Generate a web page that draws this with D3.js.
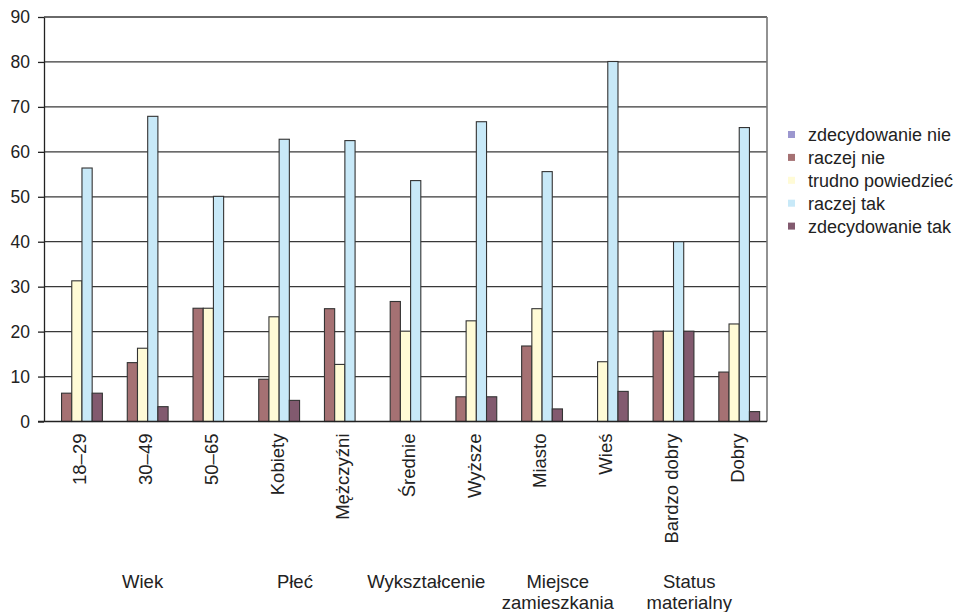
<!DOCTYPE html>
<html>
<head>
<meta charset="utf-8">
<script src="https://cdn.jsdelivr.net/npm/d3@7"></script>
<style>
  html, body { margin: 0; padding: 0; background: #fff; }
  svg { display: block; font-family: "Liberation Sans", Arial, Helvetica, sans-serif; }
</style>
</head>
<body>
<svg id="chart" width="960" height="612"></svg>
<script>
// Survey answers by respondent group (percent)
const categories = ["18–29", "30–49", "50–65", "Kobiety", "Mężczyźni", "Średnie", "Wyższe", "Miasto", "Wieś", "Bardzo dobry", "Dobry"];
const groups = [
  { name: ["Wiek"], count: 3 },
  { name: ["Płeć"], count: 2 },
  { name: ["Wykształcenie"], count: 2 },
  { name: ["Miejsce", "zamieszkania"], count: 2 },
  { name: ["Status", "materialny"], count: 2 }
];
const seriesNames = ["zdecydowanie nie", "raczej nie", "trudno powiedzieć", "raczej tak", "zdecydowanie tak"];
const zdecydowanieNie = [0, 0, 0, 0, 0, 0, 0, 0, 0, 0, 0];
const raczejNie       = [6.3, 13.1, 25.2, 9.4, 25.1, 26.7, 5.5, 16.8, 0, 20.1, 11.0];
const trudnoPowiedziec = [31.3, 16.3, 25.2, 23.3, 12.7, 20.1, 22.4, 25.1, 13.3, 20.1, 21.7];
const raczejTak       = [56.4, 67.9, 50.1, 62.8, 62.5, 53.6, 66.7, 55.6, 80.1, 40.0, 65.4];
const zdecydowanieTak = [6.3, 3.3, 0, 4.7, 0, 0, 5.5, 2.8, 6.7, 20.1, 2.2];
const yTicks = [0, 10, 20, 30, 40, 50, 60, 70, 80, 90];

const seriesValues = [zdecydowanieNie, raczejNie, trudnoPowiedziec, raczejTak, zdecydowanieTak];
const colors = ["#9c97cf", "#a57173", "#fffbd6", "#c8e9f8", "#825a6f"];

const svg = d3.select("#chart");
const plot = { left: 44, right: 767, top: 17, bottom: 421.5 };
const labelSize = 18.5;

const y = d3.scaleLinear().domain([0, 90]).range([plot.bottom, plot.top]);
const x0 = d3.scaleBand().domain(categories).range([plot.left, plot.right]).padding(0);
const x1 = d3.scaleBand().domain(seriesNames).range([0, x0.bandwidth()])
  .paddingInner(0).paddingOuter(0.72);
const color = d3.scaleOrdinal().domain(seriesNames).range(colors);

// Horizontal gridlines
svg.append("g")
  .selectAll("line")
  .data(yTicks.filter(t => t > 0))
  .join("line")
  .attr("x1", plot.left).attr("x2", plot.right)
  .attr("y1", d => y(d)).attr("y2", d => y(d))
  .attr("stroke", "#383838").attr("stroke-width", 1.3);

// Right border of the plot area
svg.append("line")
  .attr("x1", plot.right).attr("x2", plot.right)
  .attr("y1", plot.top).attr("y2", plot.bottom)
  .attr("stroke", "#777").attr("stroke-width", 1.6);

// Bars
const rows = categories.map((c, i) => ({ cat: c, vals: seriesNames.map((s, k) => ({ s, v: seriesValues[k][i] })) }));
svg.append("g")
  .selectAll("g")
  .data(rows)
  .join("g")
  .attr("transform", d => `translate(${x0(d.cat)},0)`)
  .selectAll("rect")
  .data(d => d.vals.filter(e => e.v > 0))
  .join("rect")
  .attr("x", d => x1(d.s))
  .attr("width", x1.bandwidth())
  .attr("y", d => y(d.v))
  .attr("height", d => y(0) - y(d.v))
  .attr("fill", d => color(d.s))
  .attr("stroke", "#333")
  .attr("stroke-width", 1.1);

// Y axis
const yAxis = d3.axisLeft(y).tickValues(yTicks).tickSize(6).tickPadding(8).tickSizeOuter(0);
const yg = svg.append("g").attr("transform", `translate(${plot.left},0)`).call(yAxis);
yg.select(".domain").attr("stroke", "#222").attr("stroke-width", 1.3);
yg.selectAll(".tick line").attr("stroke", "#222").attr("stroke-width", 1.3);
yg.selectAll(".tick text").attr("font-size", 17.5).attr("fill", "#222")
  .attr("font-family", "'Liberation Sans', Arial, sans-serif");

// X baseline
svg.append("line")
  .attr("x1", plot.left - 6).attr("x2", plot.right)
  .attr("y1", y(0)).attr("y2", y(0))
  .attr("stroke", "#222").attr("stroke-width", 1.4);

// Category labels (rotated)
svg.append("g")
  .selectAll("text")
  .data(categories)
  .join("text")
  .attr("transform", d => `translate(${x0(d) + x0.bandwidth() / 2 + 3},${plot.bottom + 12}) rotate(-90)`)
  .attr("text-anchor", "end")
  .attr("dy", "0.35em")
  .attr("font-size", labelSize)
  .attr("fill", "#222")
  .text(d => d);

// Group labels below the categories
let start = 0;
groups.forEach(g => {
  const first = categories[start];
  const last = categories[start + g.count - 1];
  const cx = (x0(first) + x0(last) + x0.bandwidth()) / 2 - (g.count === 2 ? 12 : 0);
  const t = svg.append("text")
    .attr("x", cx).attr("y", 588)
    .attr("text-anchor", "middle")
    .attr("font-size", labelSize)
    .attr("fill", "#222");
  g.name.forEach((line, i) => {
    t.append("tspan").attr("x", cx).attr("dy", i === 0 ? 0 : 21).text(line);
  });
  start += g.count;
});

// Legend
const legend = svg.append("g").attr("transform", "translate(788,135)");
const li = legend.selectAll("g")
  .data(seriesNames)
  .join("g")
  .attr("transform", (d, i) => `translate(0,${i * 22.9})`);
li.append("rect")
  .attr("x", 0).attr("y", -4).attr("width", 7).attr("height", 7)
  .attr("fill", d => color(d));
li.append("text")
  .attr("x", 20).attr("dy", "0.35em")
  .attr("font-size", 18)
  .attr("fill", "#222")
  .text(d => d);
</script>
</body>
</html>
